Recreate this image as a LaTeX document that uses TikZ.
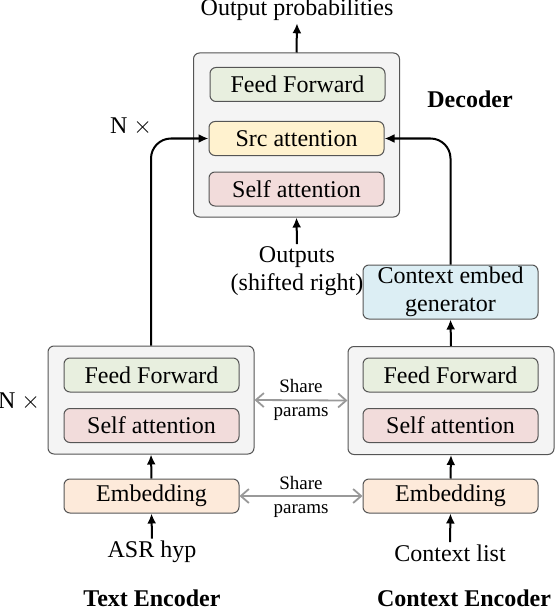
\documentclass[tikz,border=0pt]{standalone}
\usepackage{fontspec}
\setmainfont{Liberation Serif}
\usetikzlibrary{arrows.meta}

\definecolor{ffgreen}{HTML}{E8EFDF}
\definecolor{srcyellow}{HTML}{FFF2CF}
\definecolor{selfpink}{HTML}{F2DCDB}
\definecolor{embpeach}{HTML}{FDEADA}
\definecolor{cegblue}{HTML}{DCEEF4}
\definecolor{outergray}{HTML}{F4F4F4}
\definecolor{edgegray}{HTML}{555555}

\begin{document}
\begin{tikzpicture}[
    x=0.5pt, y=-0.5pt,
    font=\fontsize{12}{14}\selectfont,
    box/.style={draw=edgegray, line width=0.5pt, rounded corners=3pt, align=center, inner sep=0pt},
    outer/.style={box, fill=outergray, minimum width=103pt, minimum height=54pt},
    decouter/.style={outer, minimum height=82pt},
    layer/.style={box, minimum width=87.5pt, minimum height=17pt},
    ffbox/.style={layer, fill=ffgreen},
    srcbox/.style={layer, fill=srcyellow},
    selfbox/.style={layer, fill=selfpink},
    embbox/.style={layer, fill=embpeach},
    cegbox/.style={layer, fill=cegblue, minimum height=27pt},
    lbl/.style={align=center, inner sep=1pt},
    title/.style={font=\fontsize{12}{14}\selectfont\bfseries},
    share/.style={font=\fontsize{9.5}{12}\selectfont, align=center},
    arr/.style={-{Latex[length=5pt,width=4.5pt]}, line width=1pt},
    sharearr/.style={{Straight Barb[length=4pt,width=7pt]}-{Straight Barb[length=4pt,width=7pt]}, line width=0.9pt, draw=black!40},
]
    \useasboundingbox (0,0) rectangle (560,610);

    % Decoder
    \node[decouter] (dec)     at (296.5,135)   {};
    \node[ffbox]    (decff)   at (297.5,84.5)  {Feed Forward};
    \node[srcbox]   (decsrc)  at (296.5,138.5) {Src attention};
    \node[selfbox]  (decself) at (296.5,189)   {Self attention};
    \node[title]    (declbl)  at (470,99)      {Decoder};
    \node[lbl]      (decn)    at (131,127)     {N $\times$};
    \node[lbl]      (outprob) at (297,10)      {Output probabilities};
    \node[lbl]      (outputs) at (297,271)     {Outputs\\(shifted right)};

    % Text encoder
    \node[outer]   (txt)     at (151,400)   {};
    \node[ffbox]   (txtff)   at (151.5,375) {Feed Forward};
    \node[selfbox] (txtself) at (151.5,425.5) {Self attention};
    \node[embbox]  (txtemb)  at (151.5,496) {Embedding};
    \node[lbl]     (txtn)    at (19,402)    {N $\times$};
    \node[lbl]     (asr)     at (152,552)   {ASR hyp};
    \node[title]   (txtlbl)  at (152,598)   {Text Encoder};

    % Context encoder
    \node[cegbox]  (ceg)     at (450.5,292) {Context embed\\generator};
    \node[outer]   (ctx)     at (451,400.5) {};
    \node[ffbox]   (ctxff)   at (450.5,375) {Feed Forward};
    \node[selfbox] (ctxself) at (450.5,425.5) {Self attention};
    \node[embbox]  (ctxemb)  at (450.5,496) {Embedding};
    \node[lbl]     (ctxlist) at (450,553)   {Context list};
    \node[title]   (ctxlbl)  at (464,598)   {Context Encoder};

    % Shared parameters
    \node[share] (share1) at (301,400) {Share\\params};
    \node[share] (share2) at (301,497) {Share\\params};

    % Arrows
    \draw[arr] (dec.north) -- (outprob.south);
    \draw[arr] (outputs.north) -- (dec.south);
    \draw[arr] (asr.north) -- (txtemb.south);
    \draw[arr] (txtemb.north) -- (txt.south);
    \draw[arr, rounded corners=10pt] (txt.north) |- (decsrc.west);
    \draw[arr] (ctxlist.north) -- (ctxemb.south);
    \draw[arr] (ctxemb.north) -- (ctx.south);
    \draw[arr] (ctx.north) -- (ceg.south);
    \draw[arr, rounded corners=10pt] (ceg.north) |- (decsrc.east);
    \draw[sharearr] (txt.east) -- (ctx.west);
    \draw[sharearr] (txtemb.east) -- (ctxemb.west);
\end{tikzpicture}
\end{document}
